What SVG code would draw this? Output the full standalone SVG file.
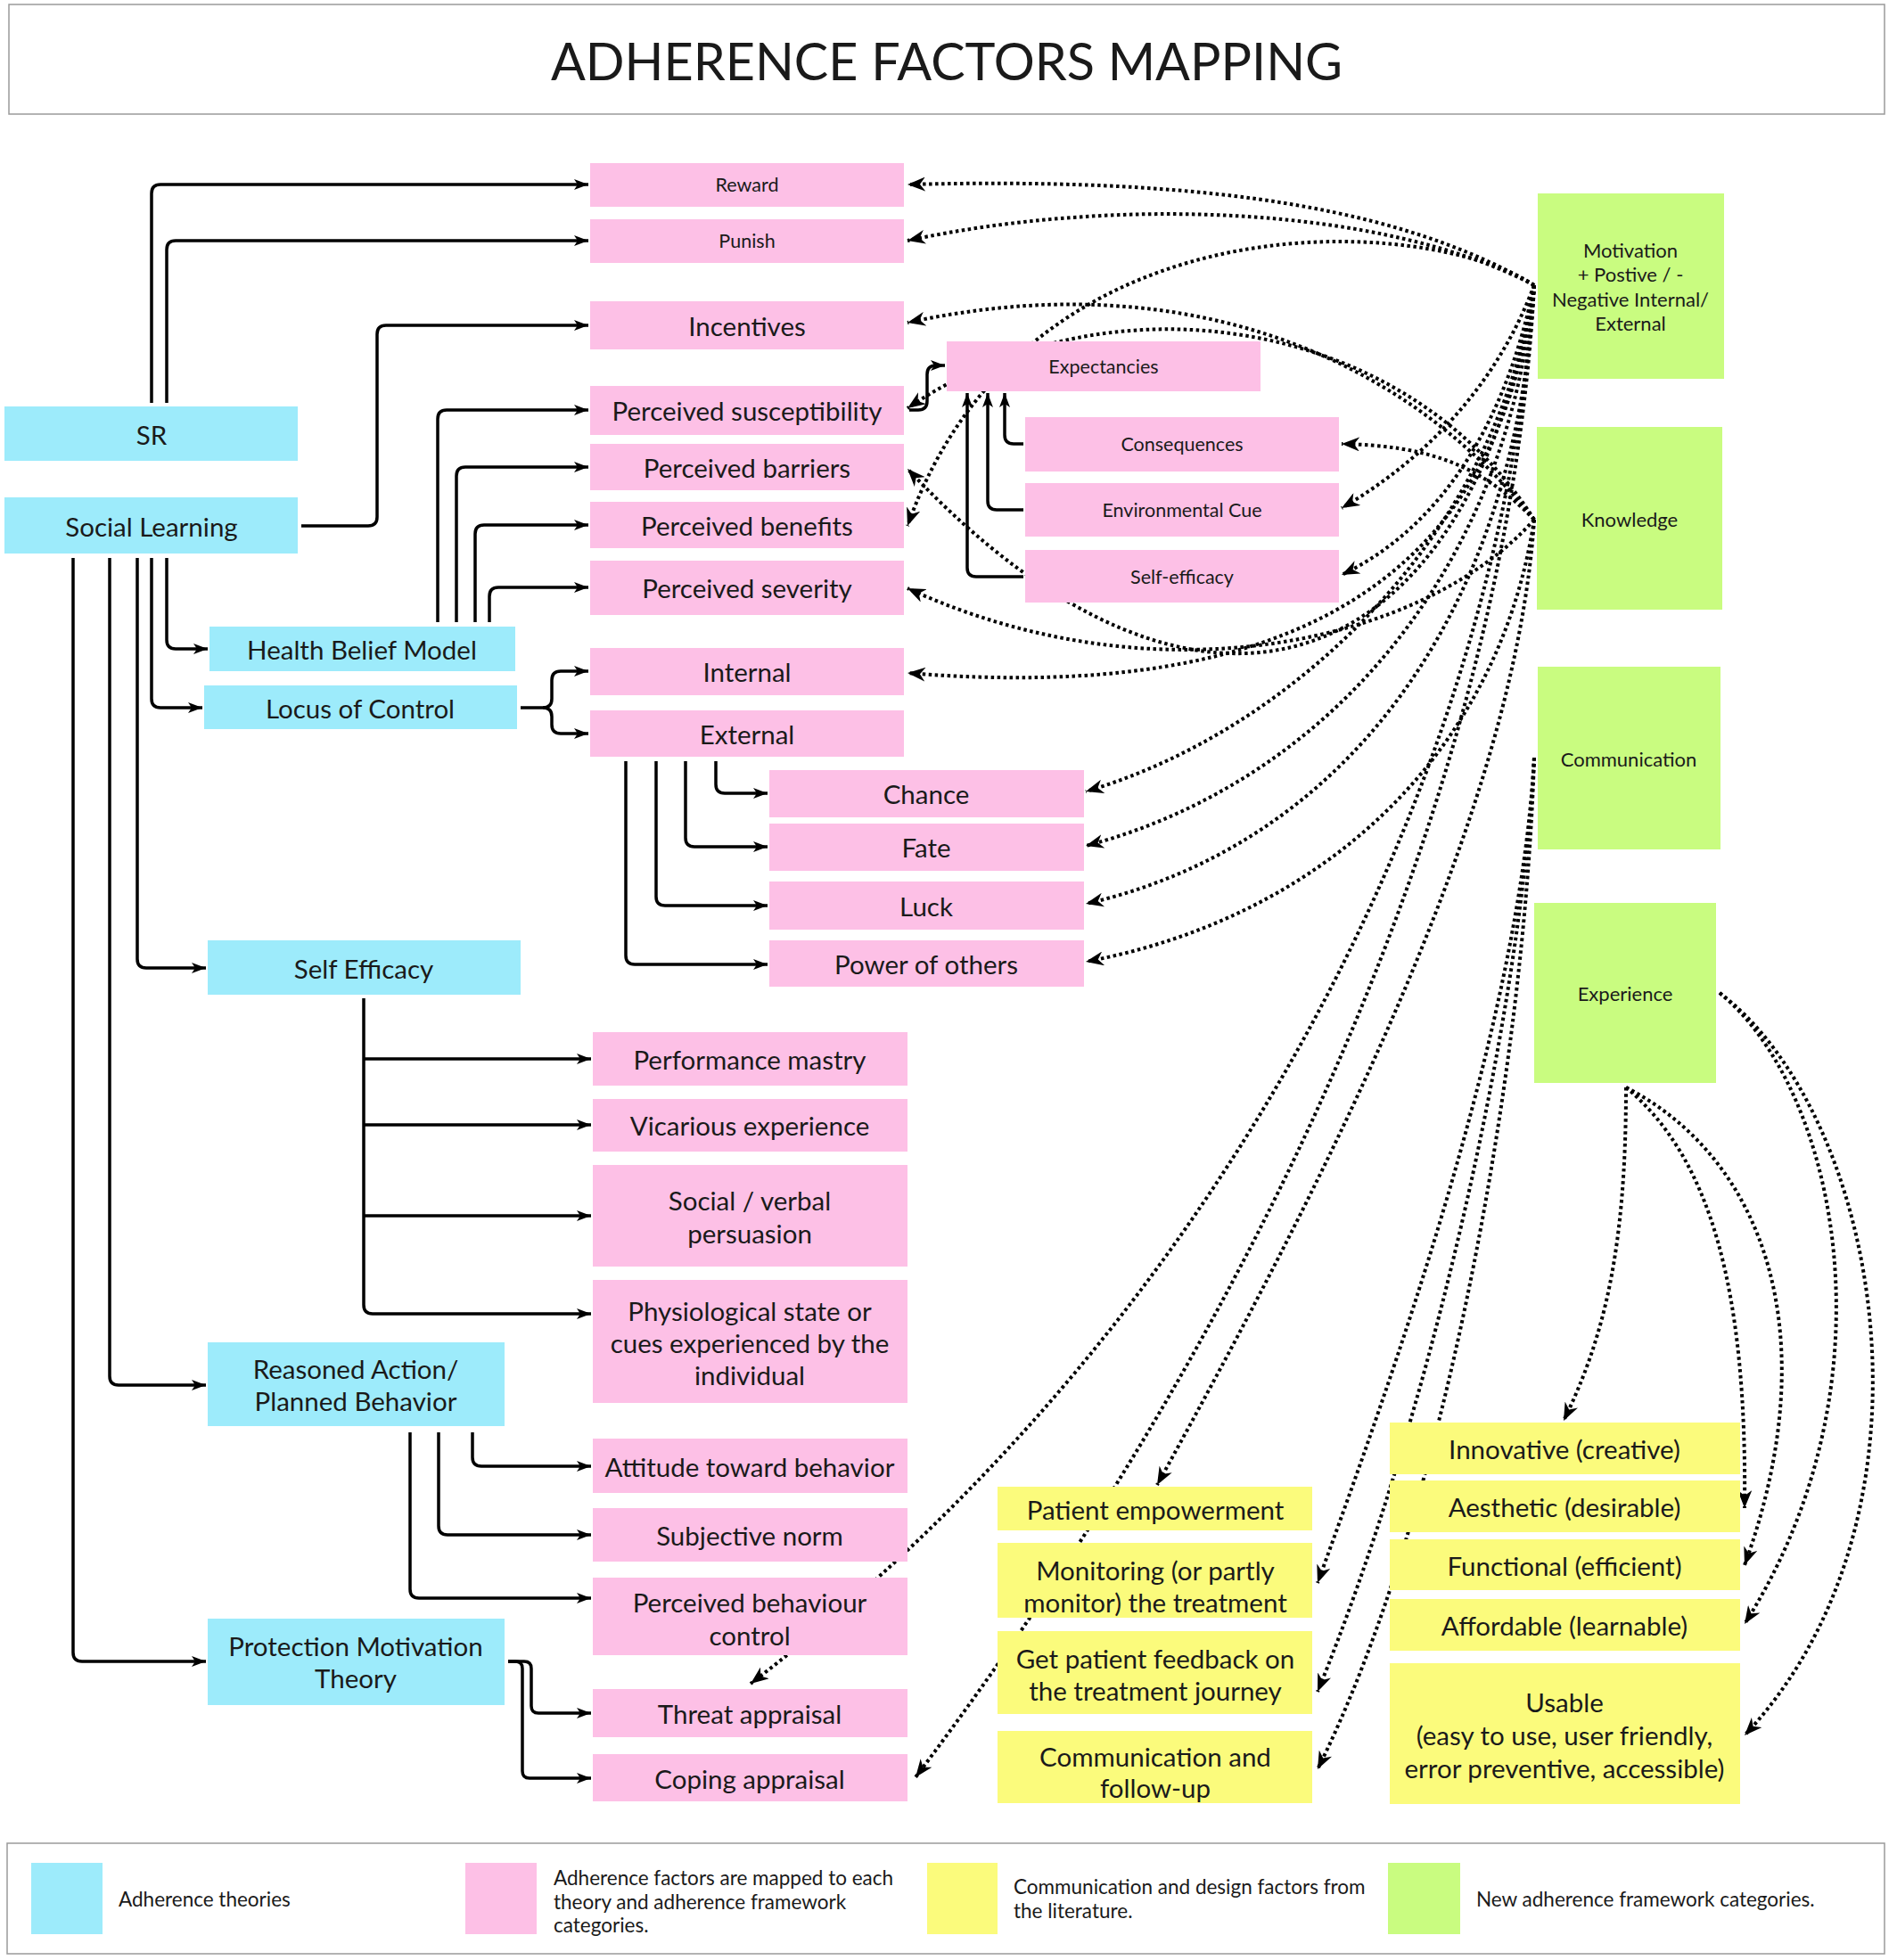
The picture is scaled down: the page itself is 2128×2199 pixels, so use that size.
<svg xmlns="http://www.w3.org/2000/svg" width="2128" height="2199" viewBox="0 0 2128 2199">
<defs>
<style>
.blue{fill:#9debfb}.pink{fill:#fdc0e6}.yellow{fill:#fbfb7c}.green{fill:#c9fc80}
.t{font-family:Lato,"Noto Sans",sans-serif;fill:#1a1a1a;text-anchor:middle;dominant-baseline:central}
.lg{font-family:Lato,"Noto Sans",sans-serif;fill:#1a1a1a;font-size:22.5px;dominant-baseline:central}
.m{font-size:29.5px}.s{font-size:21.5px}.g{font-size:22px}
.solid{fill:none;stroke:#000;stroke-width:3.5;marker-end:url(#ah)}
.dot{fill:none;stroke:#000;stroke-width:4;stroke-dasharray:3.5 3.5;marker-end:url(#dh)}
.frame{fill:#fff;stroke:#9a9a9a;stroke-width:1.5}
</style>
<marker id="ah" markerUnits="userSpaceOnUse" markerWidth="18" markerHeight="14" refX="16" refY="7" orient="auto"><path d="M0,1 L16,7 L0,13 L4,7 z" fill="#000"/></marker>
<marker id="dh" markerUnits="userSpaceOnUse" markerWidth="22" markerHeight="16" refX="20" refY="8" orient="auto"><path d="M0,0 L20,8 L0,16 L6,8 z" fill="#000"/></marker>
</defs>
<rect width="2128" height="2199" fill="#fff"/>
<g id="title">
<rect class="frame" x="10" y="5" width="2104" height="123"/>
<text class="t" x="1062" y="67" style="font-size:57.5px">ADHERENCE FACTORS MAPPING</text>
</g>
<g id="connectors">
<path class="solid" d="M170,452 L170,217 Q170,207 180,207 L660,207"/>
<path class="solid" d="M187,452 L187,280 Q187,270 197,270 L660,270"/>
<path class="solid" d="M338,590 L413,590 Q423,590 423,580 L423,375 Q423,365 433,365 L660,365"/>
<path class="solid" d="M491,698 L491,470 Q491,460 501,460 L660,460"/>
<path class="solid" d="M512,698 L512,534 Q512,524 522,524 L660,524"/>
<path class="solid" d="M533,698 L533,599 Q533,589 543,589 L660,589"/>
<path class="solid" d="M549,698 L549,669 Q549,659 559,659 L660,659"/>
<path class="solid" d="M187,626 L187,718 Q187,728 197,728 L233,728"/>
<path class="solid" d="M170,626 L170,784 Q170,794 180,794 L227,794"/>
<path class="solid" d="M154,626 L154,1076 Q154,1086 164,1086 L231,1086"/>
<path class="solid" d="M123,626 L123,1544 Q123,1554 133,1554 L231,1554"/>
<path class="solid" d="M82,626 L82,1854 Q82,1864 92,1864 L231,1864"/>
<path class="solid" d="M584,794 L609,794 Q619,794 619,784 L619,763 Q619,753 629,753 L660,753"/>
<path class="solid" d="M609,794 Q619,794 619,804 L619,813 Q619,823 629,823 L660,823"/>
<path class="solid" d="M803,854 L803,880 Q803,890 813,890 L861,890"/>
<path class="solid" d="M769,854 L769,940 Q769,950 779,950 L861,950"/>
<path class="solid" d="M736,854 L736,1006 Q736,1016 746,1016 L861,1016"/>
<path class="solid" d="M702,854 L702,1072 Q702,1082 712,1082 L861,1082"/>
<path class="solid" d="M408,1120 L408,1464 Q408,1474 418,1474 L663,1474"/>
<path class="solid" d="M408,1188 L663,1188"/>
<path class="solid" d="M408,1262 L663,1262"/>
<path class="solid" d="M408,1364 L663,1364"/>
<path class="solid" d="M530,1607 L530,1635 Q530,1645 540,1645 L663,1645"/>
<path class="solid" d="M492,1607 L492,1712 Q492,1722 502,1722 L663,1722"/>
<path class="solid" d="M460,1607 L460,1783 Q460,1793 470,1793 L663,1793"/>
<path class="solid" d="M570,1864 L588,1864 Q596,1864 596,1872 L596,1914 Q596,1922 604,1922 L663,1922"/>
<path class="solid" d="M570,1864 L578,1864 Q586,1864 586,1872 L586,1987 Q586,1995 594,1995 L663,1995"/>
<path class="solid" d="M1148,498 L1137,498 Q1127,498 1127,488 L1127,441"/>
<path class="solid" d="M1148,572 L1118,572 Q1108,572 1108,562 L1108,441"/>
<path class="solid" d="M1148,647 L1095,647 Q1085,647 1085,637 L1085,441"/>
<path class="solid" d="M1020,460 L1030,460 Q1040,460 1040,450 L1040,420 Q1040,410 1050,410 L1060,410"/>
<path class="dot" d="M1721,320 C1550,220 1300,200 1018,207"/>
<path class="dot" d="M1721,320 C1550,230 1250,220 1018,270"/>
<path class="dot" d="M1721,320 C1600,240 1150,215 1018,590"/>
<path class="dot" d="M1721,320 C1680,430 1600,515 1505,570"/>
<path class="dot" d="M1721,320 C1690,470 1620,590 1505,645"/>
<path class="dot" d="M1721,320 C1650,760 1350,880 1018,526"/>
<path class="dot" d="M1721,320 C1680,650 1450,790 1018,755"/>
<path class="dot" d="M1721,320 C1680,600 1450,820 1218,888"/>
<path class="dot" d="M1721,320 C1690,650 1480,880 1218,949"/>
<path class="dot" d="M1721,320 C1700,700 1500,950 1218,1014"/>
<path class="dot" d="M1721,320 C1680,900 1350,1500 842,1889"/>
<path class="dot" d="M1721,320 C1690,900 1400,1500 1027,1994"/>
<path class="dot" d="M1721,583 C1560,380 1300,300 1018,362"/>
<path class="dot" d="M1721,583 C1580,360 1250,300 1018,458"/>
<path class="dot" d="M1721,583 C1660,520 1600,500 1505,498"/>
<path class="dot" d="M1721,583 C1600,720 1300,790 1018,660"/>
<path class="dot" d="M1721,583 C1680,850 1480,1030 1218,1079"/>
<path class="dot" d="M1721,583 C1700,900 1500,1300 1298,1666"/>
<path class="dot" d="M1721,850 C1705,1150 1560,1550 1478,1776"/>
<path class="dot" d="M1721,850 C1705,1150 1600,1600 1478,1898"/>
<path class="dot" d="M1721,850 C1710,1200 1620,1700 1478,1985"/>
<path class="dot" d="M1824,1220 C1824,1400 1800,1500 1754,1594"/>
<path class="dot" d="M1824,1220 C1920,1300 1960,1450 1957,1692"/>
<path class="dot" d="M1824,1220 C1980,1300 2050,1500 1957,1756"/>
<path class="dot" d="M1929,1114 C2060,1220 2130,1550 1957,1822"/>
<path class="dot" d="M1929,1114 C2110,1250 2190,1700 1957,1947"/>
</g>
<g id="n-sr"><rect class="blue" x="5" y="456" width="329" height="61"/><text class="t m" x="170" y="487">SR</text></g>
<g id="n-social-learning"><rect class="blue" x="5" y="558" width="329" height="63"/><text class="t m" x="170" y="590">Social Learning</text></g>
<g id="n-hbm"><rect class="blue" x="235" y="703" width="343" height="50"/><text class="t m" x="406" y="728">Health Belief Model</text></g>
<g id="n-loc"><rect class="blue" x="229" y="769" width="351" height="49"/><text class="t m" x="404" y="794">Locus of Control</text></g>
<g id="n-self-efficacy-theory"><rect class="blue" x="233" y="1055" width="351" height="61"/><text class="t m" x="408" y="1086">Self Efficacy</text></g>
<g id="n-reasoned-action"><rect class="blue" x="233" y="1506" width="333" height="94"/><text class="t m" x="399" y="1535">Reasoned Action/</text><text class="t m" x="399" y="1571">Planned Behavior</text></g>
<g id="n-pmt"><rect class="blue" x="233" y="1816" width="333" height="97"/><text class="t m" x="399" y="1846">Protection Motivation</text><text class="t m" x="399" y="1882">Theory</text></g>
<g id="n-reward"><rect class="pink" x="662" y="183" width="352" height="49"/><text class="t s" x="838" y="207">Reward</text></g>
<g id="n-punish"><rect class="pink" x="662" y="246" width="352" height="49"/><text class="t s" x="838" y="270">Punish</text></g>
<g id="n-incentives"><rect class="pink" x="662" y="338" width="352" height="54"/><text class="t m" x="838" y="365">Incentives</text></g>
<g id="n-susceptibility"><rect class="pink" x="662" y="433" width="352" height="55"/><text class="t m" x="838" y="460">Perceived susceptibility</text></g>
<g id="n-barriers"><rect class="pink" x="662" y="498" width="352" height="52"/><text class="t m" x="838" y="524">Perceived barriers</text></g>
<g id="n-benefits"><rect class="pink" x="662" y="563" width="352" height="52"/><text class="t m" x="838" y="589">Perceived benefits</text></g>
<g id="n-severity"><rect class="pink" x="662" y="629" width="352" height="61"/><text class="t m" x="838" y="659">Perceived severity</text></g>
<g id="n-internal"><rect class="pink" x="662" y="727" width="352" height="53"/><text class="t m" x="838" y="753">Internal</text></g>
<g id="n-external"><rect class="pink" x="662" y="797" width="352" height="52"/><text class="t m" x="838" y="823">External</text></g>
<g id="n-chance"><rect class="pink" x="863" y="864" width="353" height="53"/><text class="t m" x="1039" y="890">Chance</text></g>
<g id="n-fate"><rect class="pink" x="863" y="924" width="353" height="53"/><text class="t m" x="1039" y="950">Fate</text></g>
<g id="n-luck"><rect class="pink" x="863" y="989" width="353" height="54"/><text class="t m" x="1039" y="1016">Luck</text></g>
<g id="n-power"><rect class="pink" x="863" y="1055" width="353" height="52"/><text class="t m" x="1039" y="1081">Power of others</text></g>
<g id="n-expectancies"><rect class="pink" x="1062" y="383" width="352" height="56"/><text class="t s" x="1238" y="411">Expectancies</text></g>
<g id="n-consequences"><rect class="pink" x="1150" y="468" width="352" height="61"/><text class="t s" x="1326" y="498">Consequences</text></g>
<g id="n-envcue"><rect class="pink" x="1150" y="542" width="352" height="60"/><text class="t s" x="1326" y="572">Environmental Cue</text></g>
<g id="n-self-efficacy"><rect class="pink" x="1150" y="617" width="352" height="59"/><text class="t s" x="1326" y="647">Self-efficacy</text></g>
<g id="n-performance"><rect class="pink" x="665" y="1158" width="353" height="60"/><text class="t m" x="841" y="1188">Performance mastry</text></g>
<g id="n-vicarious"><rect class="pink" x="665" y="1233" width="353" height="59"/><text class="t m" x="841" y="1262">Vicarious experience</text></g>
<g id="n-social-verbal"><rect class="pink" x="665" y="1307" width="353" height="114"/><text class="t m" x="841" y="1346">Social / verbal</text><text class="t m" x="841" y="1383">persuasion</text></g>
<g id="n-physiological"><rect class="pink" x="665" y="1436" width="353" height="138"/><text class="t m" x="841" y="1470">Physiological state or</text><text class="t m" x="841" y="1506">cues experienced by the</text><text class="t m" x="841" y="1542">individual</text></g>
<g id="n-attitude"><rect class="pink" x="665" y="1614" width="353" height="61"/><text class="t m" x="841" y="1645">Attitude toward behavior</text></g>
<g id="n-subjective"><rect class="pink" x="665" y="1692" width="353" height="60"/><text class="t m" x="841" y="1722">Subjective norm</text></g>
<g id="n-pbc"><rect class="pink" x="665" y="1770" width="353" height="87"/><text class="t m" x="841" y="1797">Perceived behaviour</text><text class="t m" x="841" y="1834">control</text></g>
<g id="n-threat"><rect class="pink" x="665" y="1895" width="353" height="54"/><text class="t m" x="841" y="1922">Threat appraisal</text></g>
<g id="n-coping"><rect class="pink" x="665" y="1968" width="353" height="53"/><text class="t m" x="841" y="1995">Coping appraisal</text></g>
<g id="n-motivation"><rect class="green" x="1725" y="217" width="209" height="208"/><text class="t g" x="1829" y="280">Motivation</text><text class="t g" x="1829" y="307">+ Postive / -</text><text class="t g" x="1829" y="335">Negative Internal/</text><text class="t g" x="1829" y="362">External</text></g>
<g id="n-knowledge"><rect class="green" x="1724" y="479" width="208" height="205"/><text class="t g" x="1828" y="582">Knowledge</text></g>
<g id="n-communication"><rect class="green" x="1725" y="748" width="205" height="205"/><text class="t g" x="1827" y="851">Communication</text></g>
<g id="n-experience"><rect class="green" x="1721" y="1013" width="204" height="202"/><text class="t g" x="1823" y="1114">Experience</text></g>
<g id="n-patient-empowerment"><rect class="yellow" x="1119" y="1668" width="353" height="49"/><text class="t m" x="1296" y="1693">Patient empowerment</text></g>
<g id="n-monitoring"><rect class="yellow" x="1119" y="1731" width="353" height="84"/><text class="t m" x="1296" y="1761">Monitoring (or partly</text><text class="t m" x="1296" y="1797">monitor) the treatment</text></g>
<g id="n-feedback"><rect class="yellow" x="1119" y="1830" width="353" height="93"/><text class="t m" x="1296" y="1860">Get patient feedback on</text><text class="t m" x="1296" y="1896">the treatment journey</text></g>
<g id="n-followup"><rect class="yellow" x="1119" y="1942" width="353" height="81"/><text class="t m" x="1296" y="1970">Communication and</text><text class="t m" x="1296" y="2005">follow-up</text></g>
<g id="n-innovative"><rect class="yellow" x="1559" y="1596" width="393" height="58"/><text class="t m" x="1755" y="1625">Innovative (creative)</text></g>
<g id="n-aesthetic"><rect class="yellow" x="1559" y="1661" width="393" height="58"/><text class="t m" x="1755" y="1690">Aesthetic (desirable)</text></g>
<g id="n-functional"><rect class="yellow" x="1559" y="1727" width="393" height="57"/><text class="t m" x="1755" y="1756">Functional (efficient)</text></g>
<g id="n-affordable"><rect class="yellow" x="1559" y="1794" width="393" height="58"/><text class="t m" x="1755" y="1823">Affordable (learnable)</text></g>
<g id="n-usable"><rect class="yellow" x="1559" y="1866" width="393" height="158"/><text class="t m" x="1755" y="1909">Usable</text><text class="t m" x="1755" y="1946">(easy to use, user friendly,</text><text class="t m" x="1755" y="1983">error preventive, accessible)</text></g>
<g id="legend">
<rect class="frame" x="8" y="2068" width="2106" height="124"/>
<rect class="blue" x="35" y="2090" width="80" height="80"/>
<text class="lg" x="133" y="2130">Adherence theories</text>
<rect class="pink" x="522" y="2090" width="80" height="80"/>
<text class="lg" x="621" y="2106">Adherence factors are mapped to each</text>
<text class="lg" x="621" y="2133">theory and adherence framework</text>
<text class="lg" x="621" y="2159">categories.</text>
<rect class="yellow" x="1040" y="2090" width="79" height="80"/>
<text class="lg" x="1137" y="2116">Communication and design factors from</text>
<text class="lg" x="1137" y="2143">the literature.</text>
<rect class="green" x="1557" y="2090" width="81" height="80"/>
<text class="lg" x="1656" y="2130">New adherence framework categories.</text>
</g>
</svg>
